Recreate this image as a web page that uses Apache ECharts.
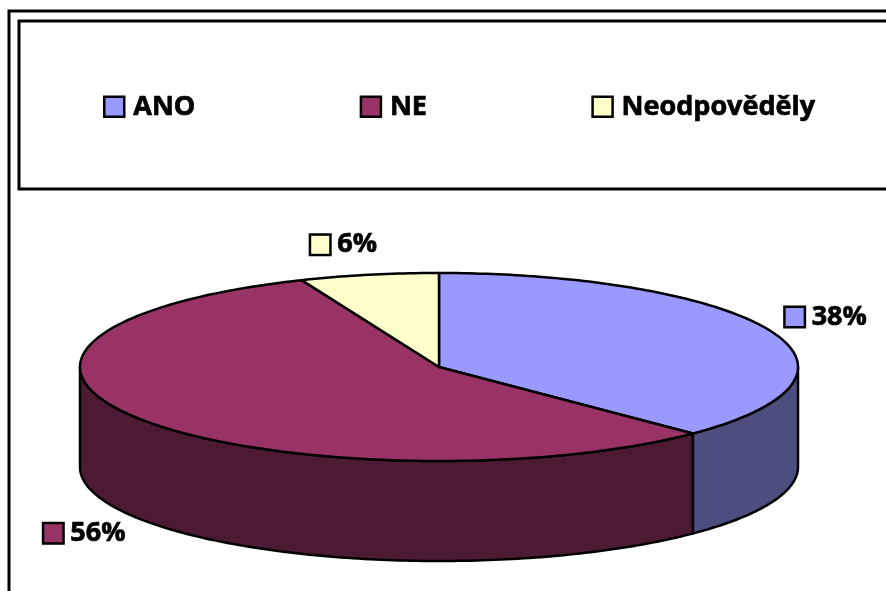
<!DOCTYPE html>
<html>
<head>
<meta charset="utf-8">
<script src="https://cdn.jsdelivr.net/npm/echarts@6/dist/echarts.min.js"></script>
<style>html,body{margin:0;padding:0;background:#fff}#c{width:886px;height:591px}</style>
</head>
<body>
<div id="c"></div>
<script>
const categories = ['ANO', 'NE', 'Neodpověděly'];
const values = [37.5, 56.25, 6.25];
const topColors = ['#9999FF', '#993366', '#FFFFCC'];
const sideColors = ['#4D4D80', '#4D1A33', '#80806A'];

const FONT = '"Open Sans"';
const total = values.reduce((a, b) => a + b, 0);
const chart = echarts.init(document.getElementById('c'), null, {renderer: 'canvas'});

function geom() {
  return {cx: 439, cy: 367, rx: 359, ry: 94, depth: 100};
}
function pt(g, t, dy) {
  return [g.cx + g.rx * Math.sin(t), g.cy - g.ry * Math.cos(t) + (dy || 0)];
}
function arc(g, a, b, dy) {
  const n = Math.max(6, Math.ceil(Math.abs(b - a) * 60));
  const out = [];
  for (let k = 0; k <= n; k++) out.push(pt(g, a + (b - a) * k / n, dy));
  return out;
}

function makeSeries(i) {
  return {
    type: 'custom',
    name: categories[i],
    coordinateSystem: 'none',
    itemStyle: {color: topColors[i]},
    data: [[values[i]]],
    renderItem: function (params, api) {
      const g = geom();
      let before = 0;
      for (let k = 0; k < i; k++) before += values[k];
      const v = api.value(0);
      const s = before / total * 2 * Math.PI;
      const e = (before + v) / total * 2 * Math.PI;
      const children = [];
      // front outer wall
      const s2 = Math.max(s, Math.PI / 2), e2 = Math.min(e, 3 * Math.PI / 2);
      if (e2 > s2) {
        const pts = arc(g, s2, e2, 0).concat(arc(g, e2, s2, g.depth));
        children.push({
          type: 'polygon', z2: 1,
          shape: {points: pts},
          style: {fill: sideColors[i], stroke: '#000', lineWidth: 2.5, lineJoin: 'round'}
        });
      }
      // top face
      const top = [[g.cx, g.cy]].concat(arc(g, s, e, 0));
      children.push({
        type: 'polygon', z2: 2,
        shape: {points: top},
        style: {fill: topColors[i], stroke: '#000', lineWidth: 2.5, lineJoin: 'round'}
      });
      // label
      const m = (s + e) / 2;
      const sn = Math.sin(m), cs = Math.cos(m);
      const ep = pt(g, m, cs < 0 ? g.depth : 0);
      let lx, ly;
      if (Math.abs(cs) > 0.9) {
        lx = ep[0] + (sn >= 0 ? -8 : 8);
        ly = ep[1] - 30 * Math.sign(cs);
      } else {
        lx = ep[0] + 15 * Math.sign(sn);
        ly = ep[1] - 14 * Math.sign(cs);
      }
      const pct = Math.round(v / total * 100) + '%';
      children.push({
        type: 'text', z2: 5,
        style: {
          x: lx, y: ly,
          text: '{sq|}{t|' + pct + '}',
          align: sn >= 0 ? 'left' : 'right',
          verticalAlign: 'middle',
          rich: {
            sq: {width: 18, height: 18, backgroundColor: topColors[i], borderColor: '#000', borderWidth: 2.5},
            t: {fontFamily: FONT, fontWeight: 'bold', fontSize: 27, fill: '#000', stroke: '#000', lineWidth: 0.7, padding: [0, 0, 0, 8]}
          }
        }
      });
      return {type: 'group', children: children};
    }
  };
}

chart.setOption({
  animation: false,
  backgroundColor: '#fff',
  legend: {
    left: 103, top: 93, padding: 0,
    itemWidth: 20, itemHeight: 20, itemGap: 164,
    icon: 'rect',
    itemStyle: {borderColor: '#000', borderWidth: 2.5},
    textStyle: {fontFamily: FONT, fontWeight: 'bold', fontSize: 27, color: '#000', textBorderColor: '#000', textBorderWidth: 0.7, padding: [0, 0, 0, 4]},
    data: categories
  },
  graphic: [
    {type: 'rect', shape: {x: 9, y: 11, width: 1000, height: 700}, style: {fill: 'none', stroke: '#000', lineWidth: 3}, silent: true},
    {type: 'rect', shape: {x: 19, y: 21, width: 1000, height: 168}, style: {fill: 'none', stroke: '#000', lineWidth: 3}, silent: true}
  ],
  series: categories.map((c, i) => makeSeries(i))
});
</script>
</body>
</html>
